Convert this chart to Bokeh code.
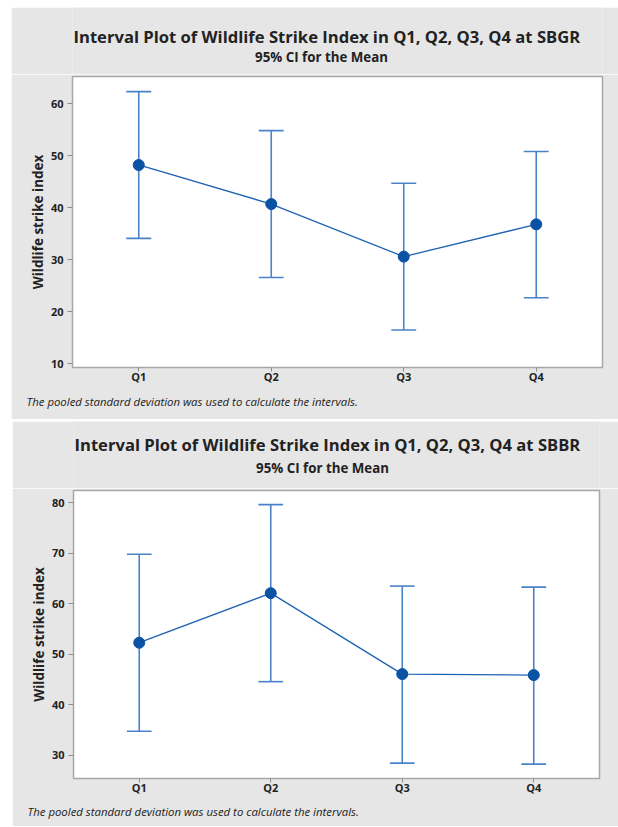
from bokeh.plotting import figure
from bokeh.layouts import column
from bokeh.models import Range1d, FixedTicker, Title
from bokeh.core.properties import value
from bokeh.embed import file_html
from bokeh.resources import INLINE

cats = ["Q1", "Q2", "Q3", "Q4"]
xpos = [1, 2, 3, 4]

sbgr_mean = [48.2, 40.7, 30.6, 36.8]
sbgr_lower = [34.1, 26.6, 16.5, 22.7]
sbgr_upper = [62.3, 54.8, 44.7, 50.8]
sbgr_ticks = [10, 20, 30, 40, 50, 60]

sbbr_mean = [52.3, 62.1, 46.1, 45.9]
sbbr_lower = [34.8, 44.6, 28.5, 28.3]
sbbr_upper = [69.8, 79.6, 63.5, 63.3]
sbbr_ticks = [30, 40, 50, 60, 70, 80]

FONT = "Open Sans"
BG = "#e6e6e6"
MARK = "#0a52a4"
LINE = "#1f62b3"
BAR = "#4a82c8"
CAP_HALF = 0.094
HEAD_H = 67


def header(station, w, mtop, mleft, bleft, bright, tx_sub, ty_title, ty_sub):
    fx0 = mleft + bleft
    fx1 = mleft + w - bright
    h = figure(width=w, height=HEAD_H, output_backend="svg", toolbar_location=None,
               x_range=Range1d(fx0, fx1), y_range=Range1d(HEAD_H, 0),
               x_axis_type=None, y_axis_type=None,
               min_border_left=bleft, min_border_right=bright,
               min_border_top=0, min_border_bottom=0)
    h.margin = (mtop, 0, 0, mleft)
    h.border_fill_color = BG
    h.background_fill_color = BG
    h.outline_line_color = None
    h.xgrid.visible = False
    h.ygrid.visible = False
    h.text(x=[fx0 + 1], y=[ty_title],
           text=[f"Interval Plot of Wildlife Strike Index in Q1, Q2, Q3, Q4 at {station}"],
           text_align="left", text_baseline="middle", text_font=value(FONT),
           text_font_size="16.6px", text_font_style="bold", text_color="#222222")
    h.text(x=[tx_sub], y=[ty_sub], text=["95% CI for the Mean"],
           text_align="center", text_baseline="middle", text_font=value(FONT),
           text_font_size="13.3px", text_font_style="bold", text_color="#222222")
    return h


def panel(mean, lower, upper, ticks, yr, w, h, mleft, bleft, bright, bbottom, s_foot):
    p = figure(width=w, height=h, output_backend="svg", toolbar_location=None,
               x_range=Range1d(0.5, 4.5), y_range=Range1d(*yr),
               min_border_top=2, min_border_left=bleft,
               min_border_right=bright, min_border_bottom=bbottom)
    p.margin = (0, 0, 0, mleft)
    p.border_fill_color = BG
    p.background_fill_color = "white"
    p.outline_line_color = "#a8a8a8"
    p.outline_line_width = 1.5
    p.xgrid.visible = False
    p.ygrid.visible = False

    foot = Title(text="The pooled standard deviation was used to calculate the intervals.",
                 align="left", offset=-46, text_font=FONT, text_font_size="11.4px",
                 text_font_style="italic", text_color="#222222", standoff=s_foot)
    p.add_layout(foot, "below")

    for ax in (p.xaxis[0], p.yaxis[0]):
        ax.axis_line_color = None
        ax.major_tick_line_color = "#8c8c8c"
        ax.major_tick_in = 0
        ax.minor_tick_line_color = None
        ax.major_label_text_font = FONT
        ax.major_label_text_font_size = "11px"
        ax.major_label_text_font_style = "bold"
        ax.major_label_text_color = "#222222"
    p.yaxis.major_tick_out = 5
    p.yaxis.major_label_standoff = 4
    p.xaxis.major_tick_out = 4
    p.xaxis.major_label_standoff = -3

    p.xaxis.ticker = FixedTicker(ticks=xpos)
    p.xaxis.major_label_overrides = {x: c for x, c in zip(xpos, cats)}
    p.yaxis.ticker = FixedTicker(ticks=ticks)
    p.yaxis.axis_label = "Wildlife strike index"
    p.yaxis.axis_label_text_font = FONT
    p.yaxis.axis_label_text_font_size = "13.5px"
    p.yaxis.axis_label_text_font_style = "bold"
    p.yaxis.axis_label_text_color = "#222222"
    p.yaxis.axis_label_standoff = 1

    p.line(xpos, mean, line_color=LINE, line_width=1.3)
    p.segment(x0=xpos, y0=lower, x1=xpos, y1=upper, line_color=BAR, line_width=1.6)
    xl = [x - CAP_HALF for x in xpos]
    xr = [x + CAP_HALF for x in xpos]
    p.segment(x0=xl, y0=upper, x1=xr, y1=upper, line_color=BAR, line_width=1.6)
    p.segment(x0=xl, y0=lower, x1=xr, y1=lower, line_color=BAR, line_width=1.6)
    p.scatter(xpos, mean, size=11, fill_color=MARK, line_color=MARK)
    return p


h1 = header("SBGR", 607, 7, 11, 61, 16, 321, 29, 49.5)
p1 = panel(sbgr_mean, sbgr_lower, sbgr_upper, sbgr_ticks, (9.3, 65.2),
           607, 345, 11, 61, 16, 52, 11)
h2 = header("SBBR", 606, 0, 12, 61, 19, 322, 22.5, 46)
p2 = panel(sbbr_mean, sbbr_lower, sbbr_upper, sbbr_ticks, (25.45, 82.4),
           606, 338, 12, 61, 19, 48, 9)

layout = column(column(h1, p1, spacing=0), column(h2, p2, spacing=0), spacing=2)
open("out.html", "w").write(file_html(layout, INLINE))
